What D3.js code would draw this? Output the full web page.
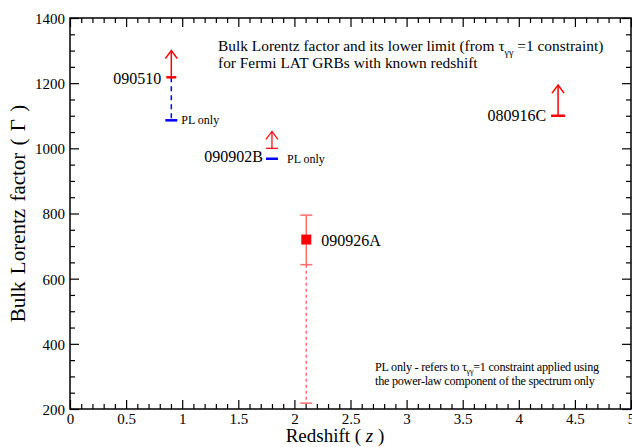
<!DOCTYPE html>
<html>
<head>
<meta charset="utf-8">
<script src="https://cdn.jsdelivr.net/npm/d3@7"></script>
<style>
  html, body { margin: 0; padding: 0; background: #fff; }
  svg { display: block; }
  svg text { font-family: "Liberation Serif", "Times New Roman", serif !important; fill: #000; }
</style>
</head>
<body>
<svg id="chart" width="632" height="447"></svg>
<script>
// ---- data ----
const xTicks = [0, 0.5, 1, 1.5, 2, 2.5, 3, 3.5, 4, 4.5, 5];
const xTickLabels = ["0", "0.5", "1", "1.5", "2", "2.5", "3", "3.5", "4", "4.5", "5"];
const yTicks = [200, 400, 600, 800, 1000, 1200, 1400];
const yTickLabels = ["200", "400", "600", "800", "1000", "1200", "1400"];

// lower limits on Gamma (red arrows)
const limitNames = ["090510", "090902B", "080916C"];
const limitZ = [0.903, 1.80, 4.35];
const limitGamma = [1218, 1000, 1100];
const limitArrowTip = [1300, 1052, 1194];

// "PL only" limits (blue)
const plNames = ["090510", "090902B"];
const plZ = [0.903, 1.80];
const plGamma = [1086, 968];

// measured Gamma with error bar
const measNames = ["090926A"];
const measZ = [2.106];
const measGamma = [720];
const measUpper = [795];
const measLower = [643];
const measFloor = [218];

// ---- layout ----
const svg = d3.select("#chart");
const L = 70, R = 631, T = 18, B = 409;
const x = d3.scaleLinear().domain([0, 5]).range([L, R]);
const y = d3.scaleLinear().domain([200, 1400]).range([B, T]);

const RED = "#ff0000", BLUE = "#0000ff", LRED = "#ff6a6a";

// ticks (inward, mirrored)
const xMinor = d3.range(0, 5.0001, 0.1).filter(v => Math.abs(v * 2 - Math.round(v * 2)) > 1e-6);
const yMinor = d3.range(200, 1401, 50).filter(v => v % 200 !== 0);

const axB = d3.axisBottom(x).tickValues(xTicks).tickFormat((d, i) => xTickLabels[i]).tickSizeInner(-9).tickSizeOuter(0).tickPadding(4);
const gB = svg.append("g").attr("transform", `translate(0,${B})`).call(axB);
svg.append("g").attr("transform", `translate(0,${B})`).call(d3.axisBottom(x).tickValues(xMinor).tickFormat("").tickSizeInner(-5).tickSizeOuter(0));
svg.append("g").attr("transform", `translate(0,${T})`).call(d3.axisTop(x).tickValues(xTicks).tickFormat("").tickSizeInner(-9).tickSizeOuter(0));
svg.append("g").attr("transform", `translate(0,${T})`).call(d3.axisTop(x).tickValues(xMinor).tickFormat("").tickSizeInner(-5).tickSizeOuter(0));

const axL = d3.axisLeft(y).tickValues(yTicks).tickFormat((d, i) => yTickLabels[i]).tickSizeInner(-9).tickSizeOuter(0).tickPadding(5);
const gL = svg.append("g").attr("transform", `translate(${L},0)`).call(axL);
svg.append("g").attr("transform", `translate(${L},0)`).call(d3.axisLeft(y).tickValues(yMinor).tickFormat("").tickSizeInner(-5).tickSizeOuter(0));
svg.append("g").attr("transform", `translate(${R},0)`).call(d3.axisRight(y).tickValues(yTicks).tickFormat("").tickSizeInner(-9).tickSizeOuter(0));
svg.append("g").attr("transform", `translate(${R},0)`).call(d3.axisRight(y).tickValues(yMinor).tickFormat("").tickSizeInner(-5).tickSizeOuter(0));

svg.selectAll(".domain").remove();
svg.selectAll(".tick line").attr("stroke", "#000").attr("stroke-width", 1.2);
svg.selectAll(".tick text").attr("font-size", 15);
gB.selectAll(".tick text").attr("dy", "0.71em");
gL.selectAll(".tick text").attr("dy", "0.36em");

// frame
svg.append("rect").attr("x", L).attr("y", T).attr("width", R - L).attr("height", B - T)
  .attr("fill", "none").attr("stroke", "#000").attr("stroke-width", 1.5);

// axis titles
svg.append("text").attr("transform", `translate(25,${(T + B) / 2}) rotate(-90)`)
  .attr("text-anchor", "middle").attr("font-size", 21).attr("word-spacing", 2)
  .text("Bulk Lorentz factor ( Γ )");
const xl = svg.append("text").attr("x", 335).attr("y", 442).attr("text-anchor", "middle").attr("font-size", 19);
xl.append("tspan").text("Redshift ( ");
xl.append("tspan").attr("font-style", "italic").text("z");
xl.append("tspan").text(" )");

// title
const t1 = svg.append("text").attr("x", 218).attr("y", 51).attr("font-size", 15.4);
t1.append("tspan").text("Bulk Lorentz factor and its lower limit (from τ");
t1.append("tspan").attr("font-size", 10).attr("dy", 5).text("γγ");
t1.append("tspan").attr("dy", -5).text(" =1 constraint)");
svg.append("text").attr("x", 218).attr("y", 68).attr("font-size", 15.4).text("for Fermi LAT GRBs with known redshift");

// note
const n1 = svg.append("text").attr("x", 375).attr("y", 371).attr("font-size", 12.2).attr("letter-spacing", -0.25);
n1.append("tspan").text("PL only - refers to τ");
n1.append("tspan").attr("font-size", 8).attr("dy", 3).text("γγ");
n1.append("tspan").attr("dy", -3).text("=1 constraint applied using");
svg.append("text").attr("x", 375).attr("y", 385).attr("font-size", 12.2).attr("letter-spacing", -0.25)
  .text("the power-law component of the spectrum only");

// ---- marks ----
const capW = [10, 12, 14];
const capSW = [2.5, 1.2, 2.5];
const arrowSW = [1.5, 1.2, 1.5];

// PL-only dashed link (090510) and blue caps
plNames.forEach((nm, i) => {
  const li = limitNames.indexOf(nm);
  if (nm === "090510") {
    svg.append("line").attr("x1", x(plZ[i])).attr("x2", x(plZ[i]))
      .attr("y1", y(limitGamma[li])).attr("y2", y(plGamma[i]))
      .attr("stroke", BLUE).attr("stroke-width", 1.5).attr("stroke-dasharray", "5,4");
  }
  svg.append("line").attr("x1", x(plZ[i]) - 6).attr("x2", x(plZ[i]) + 6)
    .attr("y1", y(plGamma[i])).attr("y2", y(plGamma[i]))
    .attr("stroke", BLUE).attr("stroke-width", 2.5);
  svg.append("text").attr("x", x(plZ[i]) + (nm === "090510" ? 10 : 15)).attr("y", y(plGamma[i]) + 4)
    .attr("font-size", 12).text("PL only");
});

// red lower-limit arrows
limitNames.forEach((nm, i) => {
  const cx = x(limitZ[i]), cy = y(limitGamma[i]), ty = y(limitArrowTip[i]);
  svg.append("line").attr("x1", cx - capW[i] / 2).attr("x2", cx + capW[i] / 2).attr("y1", cy).attr("y2", cy)
    .attr("stroke", RED).attr("stroke-width", capSW[i]);
  svg.append("line").attr("x1", cx).attr("x2", cx).attr("y1", cy).attr("y2", ty)
    .attr("stroke", RED).attr("stroke-width", arrowSW[i]);
  svg.append("path").attr("d", `M${cx - 6},${ty + 8}L${cx},${ty}L${cx + 6},${ty + 8}`)
    .attr("fill", "none").attr("stroke", RED).attr("stroke-width", arrowSW[i]);
});
const limitLabelDx = [-10, -9, -12];
const limitLabelDy = [7, 0, 5];
limitNames.forEach((nm, i) => {
  const pi = plNames.indexOf(nm);
  const baseY = nm === "090902B" ? y(plGamma[pi]) + 3 : y(limitGamma[i]);
  svg.append("text").attr("x", x(limitZ[i]) + limitLabelDx[i]).attr("y", baseY + limitLabelDy[i])
    .attr("text-anchor", "end").attr("font-size", 16).text(nm);
});

// measured point with error bars
measNames.forEach((nm, i) => {
  const cx = x(measZ[i]);
  svg.append("line").attr("x1", cx).attr("x2", cx).attr("y1", y(measLower[i])).attr("y2", y(measFloor[i]))
    .attr("stroke", LRED).attr("stroke-width", 1.5).attr("stroke-dasharray", "3,3");
  svg.append("line").attr("x1", cx).attr("x2", cx).attr("y1", y(measUpper[i])).attr("y2", y(measLower[i]))
    .attr("stroke", LRED).attr("stroke-width", 1.5);
  [measUpper[i], measLower[i], measFloor[i]].forEach(v => {
    svg.append("line").attr("x1", cx - 6).attr("x2", cx + 6).attr("y1", y(v)).attr("y2", y(v))
      .attr("stroke", LRED).attr("stroke-width", 1.5);
  });
  svg.append("rect").attr("x", cx - 5).attr("y", y(measGamma[i]) - 5).attr("width", 10).attr("height", 10)
    .attr("fill", RED);
  svg.append("text").attr("x", cx + 15).attr("y", y(measGamma[i]) + 6).attr("font-size", 16).text(nm);
});
</script>
</body>
</html>
